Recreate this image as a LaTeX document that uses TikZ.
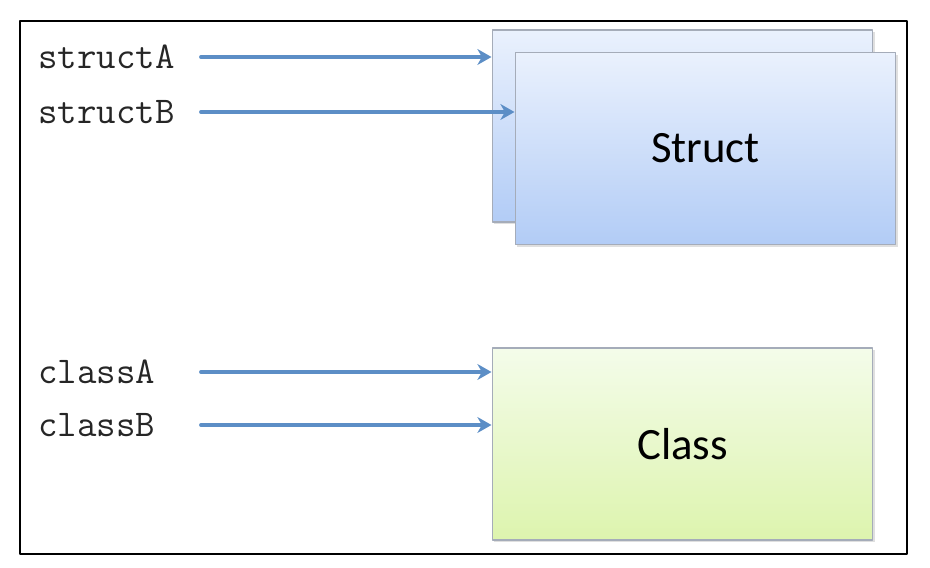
\documentclass[tikz,border=0pt]{standalone}
\usepackage{fontspec}
\newfontfamily\boxfont{Carlito}
\usetikzlibrary{arrows.meta,shadows}
\definecolor{arrowblue}{RGB}{92,142,198}
\definecolor{structtop}{RGB}{234,241,253}
\definecolor{structbot}{RGB}{178,204,246}
\definecolor{classtop}{RGB}{244,252,234}
\definecolor{classbot}{RGB}{221,244,174}
\definecolor{boxline}{RGB}{165,172,185}

\begin{document}
\begin{tikzpicture}[line cap=round,line join=round,x=0.02cm,y=0.02cm,
	typebox/.style={draw=boxline,line width=0.6pt,minimum width=7.62cm,minimum height=3.84cm,
		drop shadow={shadow xshift=1.2pt,shadow yshift=-1.2pt,opacity=0.25},
		font=\boxfont\fontsize{25.5}{30}\selectfont},
	structbox/.style={typebox,top color=structtop,bottom color=structbot},
	classbox/.style={typebox,top color=classtop,bottom color=classbot},
	varname/.style={anchor=west,text width=3.04cm,align=left,inner xsep=0.2cm,inner ysep=0pt,
		text=black!85,font=\ttfamily\fontsize{21.5}{24}\selectfont},
	link/.style={draw=arrowblue,line width=1.8pt,-{Stealth[length=8pt,width=9pt,inset=2.5pt]}}]
	\useasboundingbox (0,0) rectangle (930,568);
	\draw [line width=1.1pt] (20,14) rectangle (907,547);
	% struct boxes
	\node [structbox] (back) at (682.5,442) {};
	\node [structbox] (front) at (705.5,419.5) {Struct};
	\node [classbox] (cls) at (682.5,124) {Class};
	% variable names
	\node [varname] (sA) at (28,511) {structA};
	\node [varname] (sB) at (28,456) {structB};
	\node [varname] (cA) at (28,196) {classA};
	\node [varname] (cB) at (28,143) {classB};
	\draw [link] (sA.east) -- (sA.east -| back.west);
	\draw [link] (sB.east) -- (sB.east -| front.west);
	\draw [link] (cA.east) -- (cA.east -| cls.west);
	\draw [link] (cB.east) -- (cB.east -| cls.west);
\end{tikzpicture}
\end{document}
